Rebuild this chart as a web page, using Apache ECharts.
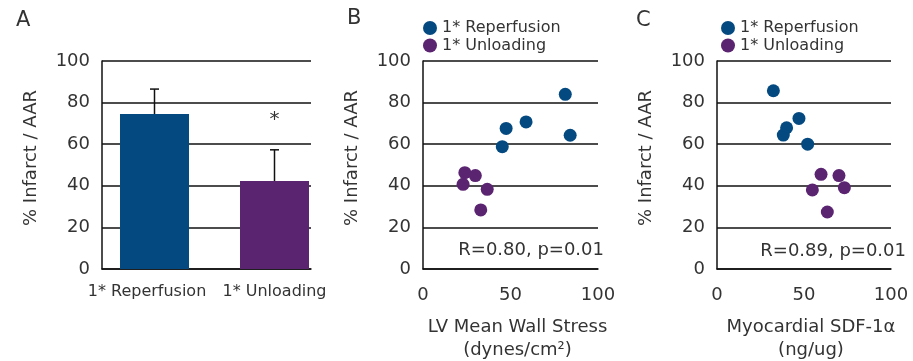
<!DOCTYPE html>
<html>
<head>
<meta charset="utf-8">
<script src="https://cdn.jsdelivr.net/npm/echarts@6/dist/echarts.min.js"></script>
<style>html,body{margin:0;padding:0;background:#fff;}#c{width:913px;height:361px;}</style>
</head>
<body>
<div id="c"></div>
<script>
// ---- data ----
const barCategories = ['1* Reperfusion', '1* Unloading'];
const barMeans = [74.5, 42.3];
const barSD = [12.0, 15.0];
const barSig = ['', '*'];
const seriesNames = ['1* Reperfusion', '1* Unloading'];
const stressReperfusion = [[81.3, 84.0], [84.1, 64.3], [58.9, 70.7], [47.5, 67.6], [45.3, 58.8]];
const stressUnloading = [[23.9, 46.3], [29.9, 44.9], [22.9, 40.7], [36.7, 38.3], [33.0, 28.4]];
const sdfReperfusion = [[32.4, 85.7], [47.1, 72.4], [40.0, 67.9], [38.1, 64.4], [52.1, 60.0]];
const sdfUnloading = [[59.8, 45.5], [70.1, 44.9], [73.2, 39.1], [54.8, 38.0], [63.4, 27.4]];
const statsB = 'R=0.80, p=0.01';
const statsC = 'R=0.89, p=0.01';
const yTitle = '% Infarct / AAR';
const xTitleB = 'LV Mean Wall Stress\n(dynes/cm\u00b2)';
const xTitleC = 'Myocardial SDF-1\u03b1\n(ng/ug)';
const panelLetters = ['A', 'B', 'C'];

// ---- styles ----
const FONT = 'DejaVu Sans';
const TXT = '#333';
const LINE = '#111';
const BLUE = '#044a81';
const PURPLE = '#5b2471';
const colors = [BLUE, PURPLE];
const catLabelPad = [[0, 15, 0, 0], [0, 0, 0, 0]];

const chart = echarts.init(document.getElementById('c'), null, {renderer: 'canvas'});

function yAxisCfg(gi) {
  return {
    gridIndex: gi, type: 'value', min: 0, max: 100, interval: 20,
    name: yTitle, nameLocation: 'middle', nameGap: 62,
    nameTextStyle: {fontFamily: FONT, fontSize: 18, color: TXT, padding: [0, 0, 0, 14]},
    axisLine: {show: true, lineStyle: {color: LINE, width: 1.5}},
    axisTick: {show: false},
    axisLabel: {fontFamily: FONT, fontSize: 18, color: TXT, margin: 12},
    splitLine: {show: true, lineStyle: {color: LINE, width: 1.5}}
  };
}
function xValueAxisCfg(gi, name) {
  return {
    gridIndex: gi, type: 'value', min: 0, max: 100, interval: 50,
    name: name, nameLocation: 'middle', nameGap: 47,
    nameTextStyle: {fontFamily: FONT, fontSize: 18, color: TXT, lineHeight: 23, padding: [0, 0, 0, 14]},
    axisLine: {show: true, onZero: false, lineStyle: {color: LINE, width: 1.5}},
    axisTick: {show: false},
    axisLabel: {fontFamily: FONT, fontSize: 18, color: TXT, margin: 17},
    splitLine: {show: false}
  };
}
function legendCfg(left) {
  return {orient: 'vertical', left: left, top: 15, itemWidth: 14, itemHeight: 14, itemGap: 1.5, icon: 'circle',
    data: seriesNames, textStyle: {fontFamily: FONT, fontSize: 16, color: TXT, lineHeight: 16}, selectedMode: false};
}

const option = {
  animation: false,
  backgroundColor: '#fff',
  title: [
    {text: panelLetters[0], left: 11, top: 5, textStyle: {fontFamily: FONT, fontSize: 21, fontWeight: 'normal', color: TXT}},
    {text: panelLetters[1], left: 342, top: 3, textStyle: {fontFamily: FONT, fontSize: 21, fontWeight: 'normal', color: TXT}},
    {text: panelLetters[2], left: 631, top: 5, textStyle: {fontFamily: FONT, fontSize: 21, fontWeight: 'normal', color: TXT}}
  ],
  legend: [legendCfg(418), legendCfg(716)],
  grid: [
    {left: 102, top: 61, width: 209, height: 208, outerBoundsMode: 'none', containLabel: false},
    {left: 94.5, top: 61, width: 240, height: 208, outerBoundsMode: 'none', containLabel: false},
    {left: 423, top: 61, width: 175, height: 208, outerBoundsMode: 'none', containLabel: false},
    {left: 717, top: 61, width: 174, height: 208, outerBoundsMode: 'none', containLabel: false}
  ],
  xAxis: [
    {gridIndex: 0, type: 'value', min: 0, max: 1, axisLine: {show: true, lineStyle: {color: LINE, width: 1.5}},
     axisTick: {show: false}, axisLabel: {show: false}, splitLine: {show: false}},
    {gridIndex: 1, type: 'category',
     data: barCategories.map((c, i) => ({value: c, textStyle: {padding: catLabelPad[i]}})),
     axisLine: {show: false}, axisTick: {show: false},
     axisLabel: {fontFamily: FONT, fontSize: 16, color: TXT, margin: 15, interval: 0, hideOverlap: false}},
    xValueAxisCfg(2, xTitleB),
    xValueAxisCfg(3, xTitleC)
  ],
  yAxis: [
    yAxisCfg(0),
    {gridIndex: 1, type: 'value', min: 0, max: 100, show: false},
    yAxisCfg(2),
    yAxisCfg(3)
  ],
  graphic: [
    {type: 'text', x: 604, y: 250, style: {text: statsB, font: '18px "' + FONT + '"', fill: TXT, textAlign: 'right', textVerticalAlign: 'middle'}},
    {type: 'text', x: 906, y: 251, style: {text: statsC, font: '18px "' + FONT + '"', fill: TXT, textAlign: 'right', textVerticalAlign: 'middle'}}
  ],
  series: [
    {type: 'bar', xAxisIndex: 1, yAxisIndex: 1, barWidth: 69,
     data: barMeans.map((v, i) => ({value: v, itemStyle: {color: colors[i]}}))},
    {type: 'custom', xAxisIndex: 1, yAxisIndex: 1, z: 5,
     data: barMeans.map((v, i) => [i, v, v + barSD[i]]),
     renderItem: function (params, api) {
       const base = api.coord([api.value(0), api.value(1)]);
       const top = api.coord([api.value(0), api.value(2)]);
       const cap = 4.5;
       const children = [
         {type: 'line', shape: {x1: base[0], y1: base[1], x2: top[0], y2: top[1]}, style: {stroke: LINE, lineWidth: 1.5}},
         {type: 'line', shape: {x1: top[0] - cap, y1: top[1], x2: top[0] + cap, y2: top[1]}, style: {stroke: LINE, lineWidth: 1.5}}
       ];
       const s = barSig[params.dataIndex];
       if (s) {
         children.push({type: 'text', x: top[0], y: top[1] - 30,
           style: {text: s, font: '20px "' + FONT + '"', fill: TXT, textAlign: 'center', textVerticalAlign: 'middle'}});
       }
       return {type: 'group', children: children};
     }},
    {type: 'scatter', name: seriesNames[0], xAxisIndex: 2, yAxisIndex: 2, symbolSize: 13, itemStyle: {color: BLUE, opacity: 1}, data: stressReperfusion},
    {type: 'scatter', name: seriesNames[1], xAxisIndex: 2, yAxisIndex: 2, symbolSize: 13, itemStyle: {color: PURPLE, opacity: 1}, data: stressUnloading},
    {type: 'scatter', name: seriesNames[0], xAxisIndex: 3, yAxisIndex: 3, symbolSize: 13, itemStyle: {color: BLUE, opacity: 1}, data: sdfReperfusion},
    {type: 'scatter', name: seriesNames[1], xAxisIndex: 3, yAxisIndex: 3, symbolSize: 13, itemStyle: {color: PURPLE, opacity: 1}, data: sdfUnloading}
  ]
};
chart.setOption(option);
</script>
</body>
</html>
